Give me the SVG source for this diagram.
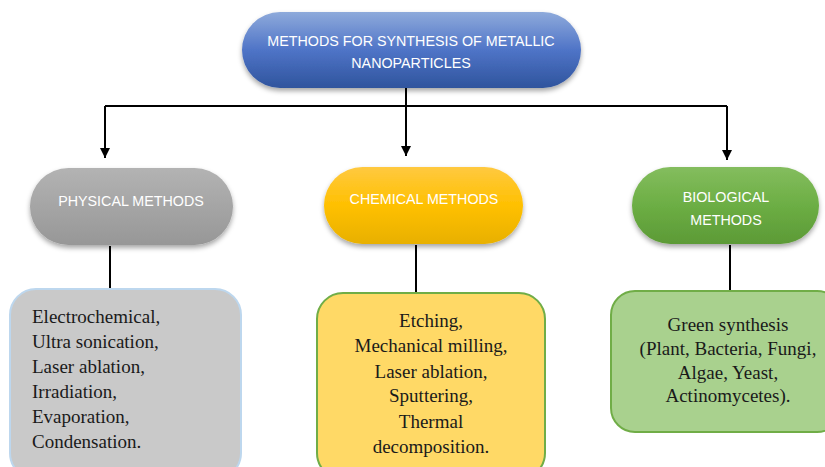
<svg xmlns="http://www.w3.org/2000/svg" width="825" height="467" viewBox="0 0 825 467">
<defs>
<linearGradient id="gBlue" x1="0" y1="0" x2="0" y2="1"><stop offset="0" stop-color="#8eaadb"/><stop offset="0.5" stop-color="#4f74c7"/><stop offset="1" stop-color="#2f549d"/></linearGradient>
<linearGradient id="gGray" x1="0" y1="0" x2="0" y2="1"><stop offset="0" stop-color="#b3b3b3"/><stop offset="1" stop-color="#979797"/></linearGradient>
<linearGradient id="gYellow" x1="0" y1="0" x2="0" y2="1"><stop offset="0" stop-color="#ffc940"/><stop offset="0.5" stop-color="#ffc000"/><stop offset="1" stop-color="#e8b000"/></linearGradient>
<linearGradient id="gGreen" x1="0" y1="0" x2="0" y2="1"><stop offset="0" stop-color="#84bd5e"/><stop offset="0.5" stop-color="#6cae44"/><stop offset="1" stop-color="#5c9a36"/></linearGradient>
<filter id="sh" x="-10%" y="-20%" width="120%" height="150%"><feDropShadow dx="0" dy="3" stdDeviation="2.5" flood-color="#000" flood-opacity="0.35"/></filter>
<marker id="arr" markerWidth="10" markerHeight="10" refX="10" refY="5" orient="auto" markerUnits="userSpaceOnUse" viewBox="0 0 10 10"><path d="M0,0 L10,5 L0,10 Z" fill="#000"/></marker>
</defs>
<style>
.pt{font-family:"Liberation Sans","Open Sans",Arial,sans-serif;font-size:14.3px;fill:#fff;text-anchor:middle}
.bt{font-family:"Liberation Serif","Times New Roman",serif;font-size:19px;fill:#1a1a1a}
.c{text-anchor:middle}
.ln{stroke:#000;stroke-width:2;fill:none}
</style>
<g id="connectors">
<path class="ln" d="M406,88 V106"/>
<path class="ln" d="M105,106 H727"/>
<path class="ln" d="M105,106 V158" marker-end="url(#arr)"/>
<path class="ln" d="M406,106 V156" marker-end="url(#arr)"/>
<path class="ln" d="M727,106 V160" marker-end="url(#arr)"/>
<path class="ln" d="M110,246 V290"/>
<path class="ln" d="M416,245 V293"/>
<path class="ln" d="M730,245 V291"/>
</g>
<g id="root">
<rect x="242" y="12" width="339" height="76" rx="38" fill="url(#gBlue)" filter="url(#sh)"/>
<text class="pt" x="411" y="46">METHODS FOR SYNTHESIS OF METALLIC</text>
<text class="pt" x="411" y="68">NANOPARTICLES</text>
</g>
<g id="physical">
<rect x="30" y="168" width="203" height="77" rx="38.5" fill="url(#gGray)" filter="url(#sh)"/>
<text class="pt" x="131" y="206">PHYSICAL METHODS</text>
</g>
<g id="chemical">
<rect x="324" y="167" width="199" height="77" rx="38.5" fill="url(#gYellow)" filter="url(#sh)"/>
<text class="pt" x="424" y="204">CHEMICAL METHODS</text>
</g>
<g id="biological">
<rect x="632" y="167" width="187" height="77" rx="38.5" fill="url(#gGreen)" filter="url(#sh)"/>
<text class="pt" x="726" y="202">BIOLOGICAL</text>
<text class="pt" x="726" y="225">METHODS</text>
</g>
<g id="physical-list">
<rect x="10" y="289" width="231" height="190" rx="26" fill="#c9c9c9" stroke="#bdd7ee" stroke-width="2"/>
<text class="bt" x="32" y="323">Electrochemical,</text>
<text class="bt" x="32" y="348">Ultra sonication,</text>
<text class="bt" x="32" y="373">Laser ablation,</text>
<text class="bt" x="32" y="398">Irradiation,</text>
<text class="bt" x="32" y="423">Evaporation,</text>
<text class="bt" x="32" y="448">Condensation.</text>
</g>
<g id="chemical-list">
<rect x="317" y="293" width="228" height="186" rx="26" fill="#ffd966" stroke="#70ad47" stroke-width="2"/>
<text class="bt c" x="431" y="327">Etching,</text>
<text class="bt c" x="431" y="352">Mechanical milling,</text>
<text class="bt c" x="431" y="378">Laser ablation,</text>
<text class="bt c" x="431" y="402">Sputtering,</text>
<text class="bt c" x="431" y="428">Thermal</text>
<text class="bt c" x="431" y="453">decomposition.</text>
</g>
<g id="biological-list">
<rect x="611" y="291" width="230" height="141" rx="24" fill="#a9d18e" stroke="#70ad47" stroke-width="2"/>
<text class="bt c" x="728" y="331">Green synthesis</text>
<text class="bt c" x="728" y="355">(Plant, Bacteria, Fungi,</text>
<text class="bt c" x="728" y="379">Algae, Yeast,</text>
<text class="bt c" x="728" y="402">Actinomycetes).</text>
</g>
</svg>
